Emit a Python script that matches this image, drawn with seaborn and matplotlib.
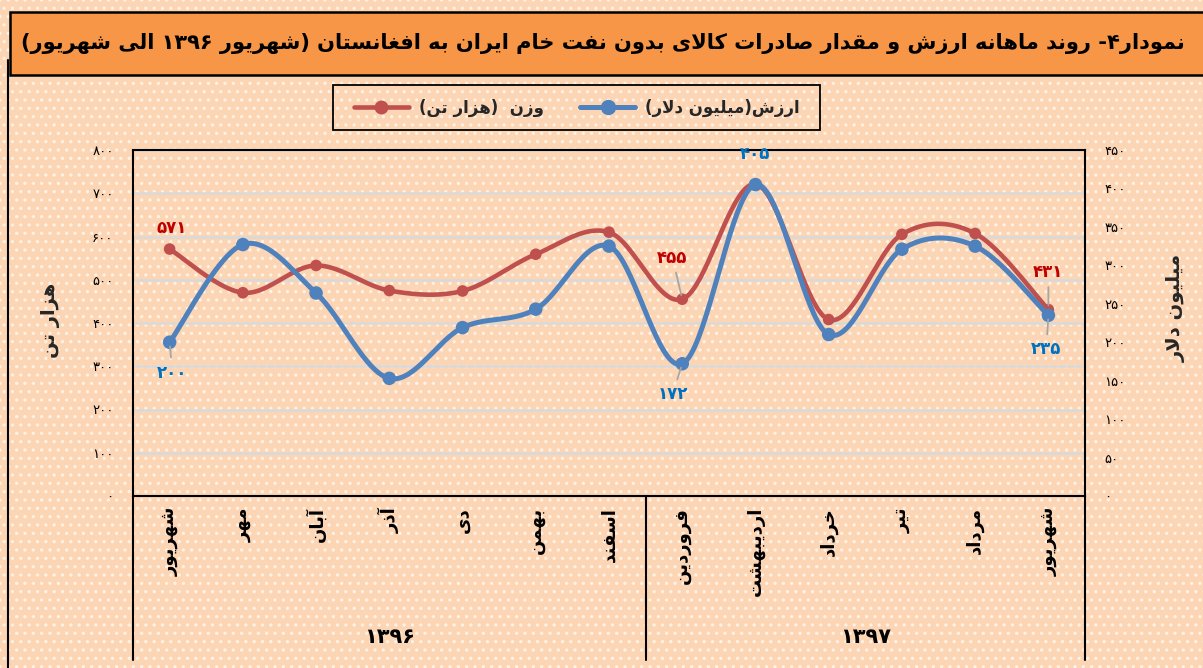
import numpy as np
import pandas as pd
import matplotlib
matplotlib.use("Agg")
import matplotlib.pyplot as plt
import seaborn as sns
from matplotlib.patches import Rectangle
from matplotlib.lines import Line2D

# ---------------- data ----------------
months = ['شهریور', 'مهر', 'آبان', 'آذر', 'دی', 'بهمن', 'اسفند',
          'فروردین', 'اردیبهشت', 'خرداد', 'تیر', 'مرداد', 'شهریور']
years = ['۱۳۹۶', '۱۳۹۷']
year_sizes = [7, 6]
weight = [571, 470, 533, 475, 474, 559, 610, 455, 721, 408, 605, 607, 431]   # هزار تن
value = [200, 327, 264, 153, 219, 243, 325, 172, 405, 210, 321, 325, 235]    # میلیون دلار
left_ticks = [0, 100, 200, 300, 400, 500, 600, 700, 800]
right_ticks = [0, 50, 100, 150, 200, 250, 300, 350, 400, 450]
weight_labelled = [0, 7, 12]
value_labelled = [0, 7, 8, 12]
title = 'نمودار۴- روند ماهانه ارزش و مقدار صادرات کالای بدون نفت خام ایران به افغانستان (شهریور ۱۳۹۶ الی شهریور)'
legend_weight = 'وزن  (هزار تن)'
legend_value = 'ارزش(میلیون دلار)'
ylabel_left = 'هزار تن'
ylabel_right = 'میلیون دلار'

# ---------------- Arabic shaping (presentation forms) ----------------
_F = {
    'ا': ('\uFE8D', '\uFE8E', None, None),
    'آ': ('\uFE81', '\uFE82', None, None),
    'ب': ('\uFE8F', '\uFE90', '\uFE91', '\uFE92'),
    'ت': ('\uFE95', '\uFE96', '\uFE97', '\uFE98'),
    'خ': ('\uFEA5', '\uFEA6', '\uFEA7', '\uFEA8'),
    'د': ('\uFEA9', '\uFEAA', None, None),
    'ذ': ('\uFEAB', '\uFEAC', None, None),
    'ر': ('\uFEAD', '\uFEAE', None, None),
    'ز': ('\uFEAF', '\uFEB0', None, None),
    'س': ('\uFEB1', '\uFEB2', '\uFEB3', '\uFEB4'),
    'ش': ('\uFEB5', '\uFEB6', '\uFEB7', '\uFEB8'),
    'ص': ('\uFEB9', '\uFEBA', '\uFEBB', '\uFEBC'),
    'غ': ('\uFECD', '\uFECE', '\uFECF', '\uFED0'),
    'ف': ('\uFED1', '\uFED2', '\uFED3', '\uFED4'),
    'ق': ('\uFED5', '\uFED6', '\uFED7', '\uFED8'),
    'ل': ('\uFEDD', '\uFEDE', '\uFEDF', '\uFEE0'),
    'م': ('\uFEE1', '\uFEE2', '\uFEE3', '\uFEE4'),
    'ن': ('\uFEE5', '\uFEE6', '\uFEE7', '\uFEE8'),
    'ه': ('\uFEE9', '\uFEEA', '\uFEEB', '\uFEEC'),
    'و': ('\uFEED', '\uFEEE', None, None),
    'ی': ('\uFBFC', '\uFBFD', '\uFBFE', '\uFBFF'),
    'ک': ('\uFB8E', '\uFB8F', '\uFB90', '\uFB91'),
}
_DIG = set('۰۱۲۳۴۵۶۷۸۹0123456789')


def rtl(s):
    g = []
    i, n = 0, len(s)
    while i < n:
        c = s[i]
        if c in _F:
            prev = s[i - 1] if i > 0 else ''
            jp = prev in _F and _F[prev][2] is not None
            if c == 'ل' and i + 1 < n and s[i + 1] in ('ا', 'آ'):
                lig = ('\uFEFB', '\uFEFC') if s[i + 1] == 'ا' else ('\uFEF5', '\uFEF6')
                g.append(lig[1] if jp else lig[0])
                i += 2
                continue
            nxt = s[i + 1] if i + 1 < n else ''
            f = _F[c]
            jn = f[2] is not None and nxt in _F
            g.append(f[3] if (jp and jn) else f[1] if jp else f[2] if jn else f[0])
        else:
            g.append({'(': ')', ')': '('}.get(c, c))
        i += 1
    g = g[::-1]
    out, run = [], []
    for ch in g:
        if ch in _DIG:
            run.append(ch)
        else:
            if run:
                out.extend(run[::-1])
                run = []
            out.append(ch)
    out.extend(run[::-1])
    return ''.join(out)


def fa(num):
    return str(num).translate(str.maketrans('0123456789', '۰۱۲۳۴۵۶۷۸۹'))


def smooth(x, y, n=40):
    P = np.column_stack([np.asarray(x, float), np.asarray(y, float)])
    segs = []
    for i in range(len(P) - 1):
        p0 = P[i - 1] if i > 0 else P[i]
        p1, p2 = P[i], P[i + 1]
        p3 = P[i + 2] if i + 2 < len(P) else P[i + 1]
        c1 = p1 + (p2 - p0) / 6.0
        c2 = p2 - (p3 - p1) / 6.0
        t = np.linspace(0, 1, n, endpoint=(i == len(P) - 2))[:, None]
        segs.append((1 - t) ** 3 * p1 + 3 * (1 - t) ** 2 * t * c1 + 3 * (1 - t) * t ** 2 * c2 + t ** 3 * p2)
    return np.vstack(segs)


# ---------------- style ----------------
sns.set_theme(style="white")
plt.rcParams['font.family'] = ['DejaVu Sans']
plt.rcParams['hatch.linewidth'] = 1.2

RED = '#C0504D'
BLUE = '#4F81BD'
RED_TXT = '#C00000'
BLUE_TXT = '#0070C0'
BG = '#FCD5B4'

W, H = 1203, 668
fig = plt.figure(figsize=(W / 100, H / 100), dpi=100)
fig.patch.set_facecolor(BG)

# dotted background
fig.add_artist(Rectangle((0, 0), 1, 1, transform=fig.transFigure, facecolor=BG,
                         edgecolor='#FFF1E4', lw=0, hatch='..', zorder=-10))
# left outer frame line
fig.add_artist(Line2D([8 / W, 8 / W], [0, 1 - 60 / H], transform=fig.transFigure,
                      color='black', lw=1.5, zorder=1))
# title band
fig.add_artist(Rectangle((10 / W, 1 - 75 / H), 1.0, 63 / H, transform=fig.transFigure,
                         facecolor='#F79646', edgecolor='black', lw=1.8, zorder=2))
t = fig.text(603 / W, 1 - 44 / H, rtl(title), ha='center', va='center',
             fontsize=16, fontweight='bold', color='black', zorder=3)
fig.canvas.draw()
wpx = t.get_window_extent().width
if wpx > 1168:
    t.set_fontsize(16 * 1168 / wpx)

# axes
L, R, T, B = 133, 1085, 150, 496
ax = fig.add_axes([L / W, 1 - B / H, (R - L) / W, (B - T) / H])
ax.set_facecolor('none')
ax2 = ax.twinx()

x = np.arange(len(months))
cw = smooth(x, weight)
cv = smooth(x, value)

ax.yaxis.grid(True, color='#D9D9D9', lw=1.8)
ax.set_axisbelow(True)
sns.lineplot(x=cw[:, 0], y=cw[:, 1], ax=ax, color=RED, lw=3.3, sort=False, estimator=None)
sns.scatterplot(x=x, y=weight, ax=ax, color=RED, s=70, edgecolor='none', zorder=4)
sns.lineplot(x=cv[:, 0], y=cv[:, 1], ax=ax2, color=BLUE, lw=3.6, sort=False, estimator=None)
sns.scatterplot(x=x, y=value, ax=ax2, color=BLUE, s=95, edgecolor='none', zorder=4)

ax.set_xlim(-0.5, len(months) - 0.5)
ax.set_ylim(left_ticks[0], left_ticks[-1])
ax2.set_ylim(right_ticks[0], right_ticks[-1])

ax.set_yticks(left_ticks)
ax.set_yticklabels([fa(v) for v in left_ticks])
ax2.set_yticks(right_ticks)
ax2.set_yticklabels([fa(v) for v in right_ticks])
ax.tick_params(axis='y', length=0, pad=14, labelsize=9.5, colors='black')
ax2.tick_params(axis='y', length=0, pad=14, labelsize=9.5, colors='black')
ax.set_xticks(x)
ax.set_xticklabels([rtl(m) for m in months], rotation=90, fontsize=13, fontweight='bold')
ax.tick_params(axis='x', length=0, pad=8, colors='black')
for a in (ax, ax2):
    a.set_xlabel('')
    a.set_ylabel('')
for s in ax.spines.values():
    s.set_color('black')
    s.set_linewidth(1.5)
    s.set_visible(True)
for s in ax2.spines.values():
    s.set_visible(False)

# year group labels & separators
xt = ax.get_xaxis_transform()
bounds = [-0.5]
for n_ in year_sizes:
    bounds.append(bounds[-1] + n_)
for b in bounds:
    ax.plot([b, b], [0, -(660 - B) / (B - T)], transform=xt, color='black', lw=1.5, clip_on=False)
for yr, a0, a1 in zip(years, bounds[:-1], bounds[1:]):
    ax.text((a0 + a1) / 2, -(637 - B) / (B - T), yr, transform=xt, ha='center', va='center',
            fontsize=15, fontweight='bold', color='black')

# axis titles
fig.text(50 / W, 1 - 320 / H, rtl(ylabel_left), rotation=90, ha='center', va='center',
         fontsize=14, fontweight='bold')
fig.text(1176 / W, 1 - 308 / H, rtl(ylabel_right), rotation=90, ha='center', va='center',
         fontsize=14, fontweight='bold')

# data labels
lead = dict(arrowstyle='-', color='#A6A6A6', lw=1.3, shrinkA=2, shrinkB=3)
w_off = {0: ((1.5, 15), False), 7: ((-7, 30), True), 12: ((0, 27), True)}
v_off = {0: ((2, -22), True), 7: ((-7, -22), True), 8: ((0, 22), False), 12: ((-1.5, -24.5), True)}
for i in weight_labelled:
    off, ld = w_off[i]
    ax.annotate(fa(weight[i]), xy=(i, weight[i]), xytext=off, textcoords='offset points',
                ha='center', va='center', fontsize=12, fontweight='bold', color=RED_TXT,
                arrowprops=lead if ld else None, zorder=6)
for i in value_labelled:
    off, ld = v_off[i]
    ax2.annotate(fa(value[i]), xy=(i, value[i]), xytext=off, textcoords='offset points',
                 ha='center', va='center', fontsize=12, fontweight='bold', color=BLUE_TXT,
                 arrowprops=lead if ld else None, zorder=6)

# legend
fig.add_artist(Rectangle((333 / W, 1 - 130 / H), 487 / W, 45 / H, transform=fig.transFigure,
                         facecolor='none', edgecolor='black', lw=1.3, zorder=3))
h_w = Line2D([], [], color=RED, lw=3.3, marker='o', markersize=9)
h_v = Line2D([], [], color=BLUE, lw=3.6, marker='o', markersize=10)
fig.legend(handles=[h_w, h_v], labels=[rtl(legend_weight), rtl(legend_value)],
           loc='center', bbox_to_anchor=(577 / W, 1 - 108 / H), ncol=2, frameon=False,
           prop={'weight': 'bold', 'size': 12}, handlelength=3.3, handletextpad=0.6,
           columnspacing=2.2)

fig.savefig('out.png', dpi=100, facecolor=fig.get_facecolor())
